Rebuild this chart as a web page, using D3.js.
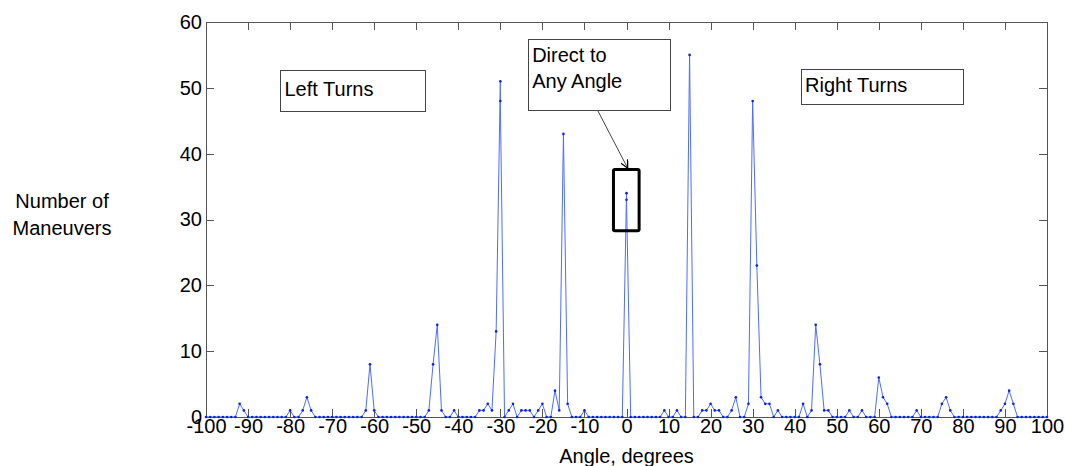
<!DOCTYPE html>
<html>
<head>
<meta charset="utf-8">
<script src="https://cdn.jsdelivr.net/npm/d3@7"></script>
<style>
    body { margin: 0; background: #fff; }
    text { font-family: "Liberation Sans", Arial, Helvetica, sans-serif; fill: #000; }
</style>
</head>
<body>
<div id="chart"></div>
<script>
"use strict";

// Heading change in degrees (the peaks at -30 and 0 hold two samples each).
var angles = [
    -100, -99, -98, -97, -96, -95, -94, -93, -92, -91,
    -90, -89, -88, -87, -86, -85, -84, -83, -82, -81,
    -80, -79, -78, -77, -76, -75, -74, -73, -72, -71,
    -70, -69, -68, -67, -66, -65, -64, -63, -62, -61,
    -60, -59, -58, -57, -56, -55, -54, -53, -52, -51,
    -50, -49, -48, -47, -46, -45, -44, -43, -42, -41,
    -40, -39, -38, -37, -36, -35, -34, -33, -32, -31,
    -30, -30, -29, -28, -27, -26, -25, -24, -23, -22, -21,
    -20, -19, -18, -17, -16, -15, -14, -13, -12, -11,
    -10, -9, -8, -7, -6, -5, -4, -3, -2, -1,
    0, 0, 1, 2, 3, 4, 5, 6, 7, 8, 9,
    10, 11, 12, 13, 14, 15, 16, 17, 18, 19,
    20, 21, 22, 23, 24, 25, 26, 27, 28, 29,
    30, 31, 32, 33, 34, 35, 36, 37, 38, 39,
    40, 41, 42, 43, 44, 45, 46, 47, 48, 49,
    50, 51, 52, 53, 54, 55, 56, 57, 58, 59,
    60, 61, 62, 63, 64, 65, 66, 67, 68, 69,
    70, 71, 72, 73, 74, 75, 76, 77, 78, 79,
    80, 81, 82, 83, 84, 85, 86, 87, 88, 89,
    90, 91, 92, 93, 94, 95, 96, 97, 98, 99,
    100
];

var maneuvers = [
    0, 0, 0, 0, 0, 0, 0, 0, 2, 1,
    0, 0, 0, 0, 0, 0, 0, 0, 0, 0,
    1, 0, 0, 1, 3, 1, 0, 0, 0, 0,
    0, 0, 0, 0, 0, 0, 0, 0, 1, 8,
    1, 0, 0, 0, 0, 0, 0, 0, 0, 0,
    0, 0, 0, 1, 8, 14, 1, 0, 0, 1,
    0, 0, 0, 0, 0, 1, 1, 2, 1, 13,
    51, 48, 0, 1, 2, 0, 1, 1, 1, 0, 1,
    2, 0, 0, 4, 1, 43, 2, 0, 0, 0,
    1, 0, 0, 0, 0, 0, 0, 0, 0, 0,
    34, 33, 0, 0, 0, 0, 0, 0, 0, 0, 1,
    0, 0, 1, 0, 0, 55, 0, 0, 1, 1,
    2, 1, 1, 0, 0, 1, 3, 0, 0, 2,
    48, 23, 3, 2, 2, 0, 1, 0, 0, 0,
    0, 0, 2, 0, 1, 14, 8, 1, 1, 0,
    0, 0, 0, 1, 0, 0, 1, 0, 0, 0,
    6, 3, 2, 0, 0, 0, 0, 0, 0, 1,
    0, 0, 0, 0, 0, 2, 3, 1, 0, 0,
    0, 0, 0, 0, 0, 0, 0, 0, 0, 1,
    2, 4, 2, 0, 0, 0, 0, 0, 0, 0,
    0
];

var xTicks = [-100, -90, -80, -70, -60, -50, -40, -30, -20, -10, 0, 10, 20, 30, 40, 50, 60, 70, 80, 90, 100];
var yTicks = [0, 10, 20, 30, 40, 50, 60];

var yLabelLines = ["Number of", "Maneuvers"];
var xLabel = "Angle, degrees";

var constants = {
    WIDTH: 1065,
    HEIGHT: 466,
    MARGIN: { top: 22, right: 18, bottom: 49, left: 206 },
    FONT_SIZE: 20,
    TICK: 8,
    AXIS_COLOR: "#555",
    LINE_COLOR: "#4d6dff",
    DOT_COLOR: "#0a1ef0"
};

var plotWidth = constants.WIDTH - constants.MARGIN.left - constants.MARGIN.right;
var plotHeight = constants.HEIGHT - constants.MARGIN.top - constants.MARGIN.bottom;

var data = angles.map(function(a, i) {
    return { angle: a, count: maneuvers[i] };
});

var x = d3.scaleLinear().domain([-100, 100]).range([0, plotWidth]);
var y = d3.scaleLinear().domain([0, 60]).range([plotHeight, 0]);

// plain hyphen minus, like the original figure
var plainNumber = function(d) {
    return String(d);
};

var svg = d3.select("#chart").append("svg")
    .attr("width", constants.WIDTH)
    .attr("height", constants.HEIGHT);

var chart = svg.append("g")
    .attr("transform", "translate(" + constants.MARGIN.left + "," + constants.MARGIN.top + ")");

/** Axes: labelled bottom and left, bare ticks on top and right, all pointing inward. */
function styleAxis(g) {
    g.select(".domain").remove();
    g.selectAll("line")
        .attr("stroke", constants.AXIS_COLOR)
        .attr("shape-rendering", "crispEdges");
    g.selectAll("text")
        .attr("fill", "#000")
        .style("font-size", constants.FONT_SIZE + "px")
        .style("font-family", "'Liberation Sans', Arial, sans-serif");
}

chart.append("g")
    .attr("transform", "translate(0," + plotHeight + ")")
    .call(d3.axisBottom(x).tickValues(xTicks).tickFormat(plainNumber)
        .tickSizeInner(-constants.TICK).tickSizeOuter(0).tickPadding(2))
    .call(styleAxis);

chart.append("g")
    .call(d3.axisLeft(y).tickValues(yTicks).tickFormat(plainNumber)
        .tickSizeInner(-constants.TICK).tickSizeOuter(0).tickPadding(4))
    .call(styleAxis);

chart.append("g")
    .call(d3.axisTop(x).tickValues(xTicks).tickFormat("")
        .tickSizeInner(-constants.TICK).tickSizeOuter(0))
    .call(styleAxis);

chart.append("g")
    .attr("transform", "translate(" + plotWidth + ",0)")
    .call(d3.axisRight(y).tickValues(yTicks).tickFormat("")
        .tickSizeInner(-constants.TICK).tickSizeOuter(0))
    .call(styleAxis);

chart.append("rect")
    .attr("x", 0)
    .attr("y", 0)
    .attr("width", plotWidth)
    .attr("height", plotHeight)
    .attr("fill", "none")
    .attr("stroke", constants.AXIS_COLOR)
    .attr("shape-rendering", "crispEdges");

/** Series: thin line with small dot markers. */
var line = d3.line()
    .x(function(d) { return x(d.angle); })
    .y(function(d) { return y(d.count); });

chart.append("path")
    .datum(data)
    .attr("fill", "none")
    .attr("stroke", constants.LINE_COLOR)
    .attr("stroke-width", 1)
    .attr("d", line);

chart.append("g")
    .selectAll("circle")
    .data(data)
    .enter().append("circle")
    .attr("cx", function(d) { return x(d.angle); })
    .attr("cy", function(d) { return y(d.count); })
    .attr("r", 1.3)
    .attr("fill", constants.DOT_COLOR);

/** Annotations, placed in data units. */
function textBox(x0, x1, y0, y1, lines, firstBaseline, lineGap) {
    var g = chart.append("g");
    g.append("rect")
        .attr("x", Math.round(x(x0)) + 0.5)
        .attr("y", Math.round(y(y0)) + 0.5)
        .attr("width", Math.round(x(x1) - x(x0)))
        .attr("height", Math.round(y(y1) - y(y0)))
        .attr("fill", "#fff")
        .attr("stroke", "#444")
        .attr("stroke-width", 1);
    g.selectAll("text")
        .data(lines)
        .enter().append("text")
        .attr("x", x(x0) + 4.5)
        .attr("y", function(d, i) { return y(y0) + firstBaseline + i * lineGap; })
        .style("font-size", constants.FONT_SIZE + "px")
        .text(function(d) { return d; });
}

textBox(-82.4, -47.9, 52.7, 46.5, ["Left Turns"], 26, 0);
textBox(41.4, 79.9, 52.8, 47.5, ["Right Turns"], 23, 0);
textBox(-23.5, 10.2, 57.4, 46.6, ["Direct to", "Any Angle"], 22.5, 26.5);

svg.append("defs").append("marker")
    .attr("id", "arrowhead")
    .attr("viewBox", "0 0 10 10")
    .attr("refX", 9)
    .attr("refY", 5)
    .attr("markerWidth", 8)
    .attr("markerHeight", 8)
    .attr("markerUnits", "userSpaceOnUse")
    .attr("orient", "auto")
    .append("path")
    .attr("d", "M0,0 L10,5 L0,10")
    .attr("fill", "none")
    .attr("stroke", "#000")
    .attr("stroke-width", 1.6);

chart.append("line")
    .attr("x1", x(-6.8))
    .attr("y1", y(46.5))
    .attr("x2", x(0.2))
    .attr("y2", y(37.9))
    .attr("stroke", "#444")
    .attr("stroke-width", 1)
    .attr("marker-end", "url(#arrowhead)");

chart.append("rect")
    .attr("x", x(-3.1))
    .attr("y", y(37.6))
    .attr("width", x(3.0) - x(-3.1))
    .attr("height", y(28.3) - y(37.6))
    .attr("rx", 1.5)
    .attr("fill", "none")
    .attr("stroke", "#000")
    .attr("stroke-width", 3);

/** Axis titles. */
svg.append("g")
    .selectAll("text")
    .data(yLabelLines)
    .enter().append("text")
    .attr("x", 62)
    .attr("y", function(d, i) { return 208 + i * 27; })
    .attr("text-anchor", "middle")
    .style("font-size", constants.FONT_SIZE + "px")
    .text(function(d) { return d; });

svg.append("text")
    .attr("x", constants.MARGIN.left + x(0))
    .attr("y", 463)
    .attr("text-anchor", "middle")
    .style("font-size", constants.FONT_SIZE + "px")
    .text(xLabel);
</script>
</body>
</html>
